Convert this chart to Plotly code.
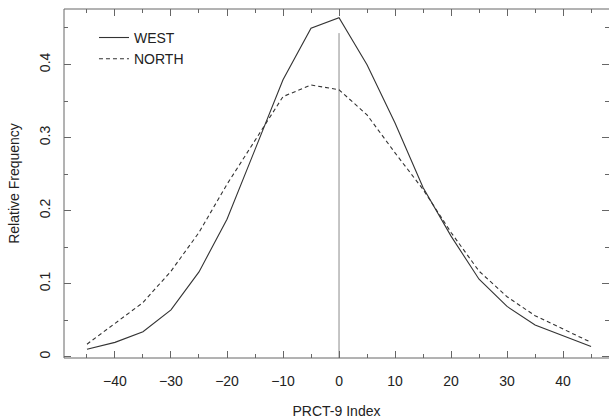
import plotly.graph_objects as go

x_vals = [-45, -40, -35, -30, -25, -20, -15, -10, -5, 0, 5, 10, 15, 20, 25, 30, 35, 40, 45]
west = [0.010, 0.0195, 0.034, 0.064, 0.116, 0.188, 0.2835, 0.379, 0.4497, 0.464, 0.3996,
        0.320, 0.2316, 0.165, 0.106, 0.0687, 0.0432, 0.0285, 0.014]
north = [0.017, 0.046, 0.074, 0.117, 0.170, 0.236, 0.296, 0.356, 0.372, 0.3654, 0.331,
         0.279, 0.229, 0.170, 0.117, 0.082, 0.056, 0.0377, 0.0195]
ref_x = [0, 0]
ref_y = [-0.01, 0.443]
x_ticks = [-40, -30, -20, -10, 0, 10, 20, 30, 40]
y_ticks = [0, 0.1, 0.2, 0.3, 0.4]
y_labels = ["0", "0.1", "0.2", "0.3", "0.4"]

FONT = "Liberation Sans, Arial, Helvetica, sans-serif"
LINE = "#333333"
AX = "#666666"

fig = go.Figure()
fig.add_trace(go.Scatter(x=ref_x, y=ref_y, mode="lines",
                         line=dict(color="#8c8c8c", width=1), showlegend=False,
                         hoverinfo="skip"))
fig.add_trace(go.Scatter(x=x_vals, y=west, mode="lines", name="WEST",
                         line=dict(color=LINE, width=1.1)))
fig.add_trace(go.Scatter(x=x_vals, y=north, mode="lines", name="NORTH",
                         line=dict(color=LINE, width=1.1, dash="4px,3px")))

fig.update_layout(
    width=609, height=419,
    margin=dict(l=64, r=0, t=9, b=61, autoexpand=False),
    paper_bgcolor="white", plot_bgcolor="white",
    font=dict(family=FONT, size=14, color="#222222"),
    showlegend=True,
    legend=dict(x=0.055, y=0.963, xanchor="left", yanchor="top",
                bgcolor="rgba(0,0,0,0)", font=dict(size=14),
                tracegroupgap=0),
    xaxis=dict(range=[-49.1, 48.2], tickvals=x_ticks, ticks="inside", ticklen=7,
               tickcolor=AX, showline=False, mirror="allticks", showgrid=False,
               zeroline=False, ticklabelstandoff=13, automargin=False,
               minor=dict(dtick=5, tick0=0, ticks="inside", ticklen=4, tickcolor=AX,
                          showgrid=False),
               title=dict(text="PRCT-9 Index", standoff=21, font=dict(size=14))),
    yaxis=dict(range=[-0.0019, 0.476], tickvals=y_ticks, ticktext=y_labels,
               ticks="inside", ticklen=7, tickcolor=AX, showline=False,
               mirror="allticks", showgrid=False, zeroline=False, tickangle=-90,
               ticklabelstandoff=10, automargin=False,
               minor=dict(dtick=0.05, tick0=0, ticks="inside", ticklen=4,
                          tickcolor=AX, showgrid=False),
               title=dict(text="Relative Frequency", standoff=14, font=dict(size=14))),
    shapes=[
        dict(type="line", xref="paper", yref="paper", x0=0, x1=0, y0=0, y1=1,
             line=dict(color=AX, width=1)),
        dict(type="line", xref="paper", yref="paper", x0=0, x1=1.01, y0=1, y1=1,
             line=dict(color=AX, width=1)),
        dict(type="line", xref="paper", yref="paper", x0=0, x1=1.01, y0=0, y1=0,
             line=dict(color=AX, width=1)),
    ],
)

fig.write_html("out.html", config={"displayModeBar": False},
               post_script="document.body.style.margin='0';")
